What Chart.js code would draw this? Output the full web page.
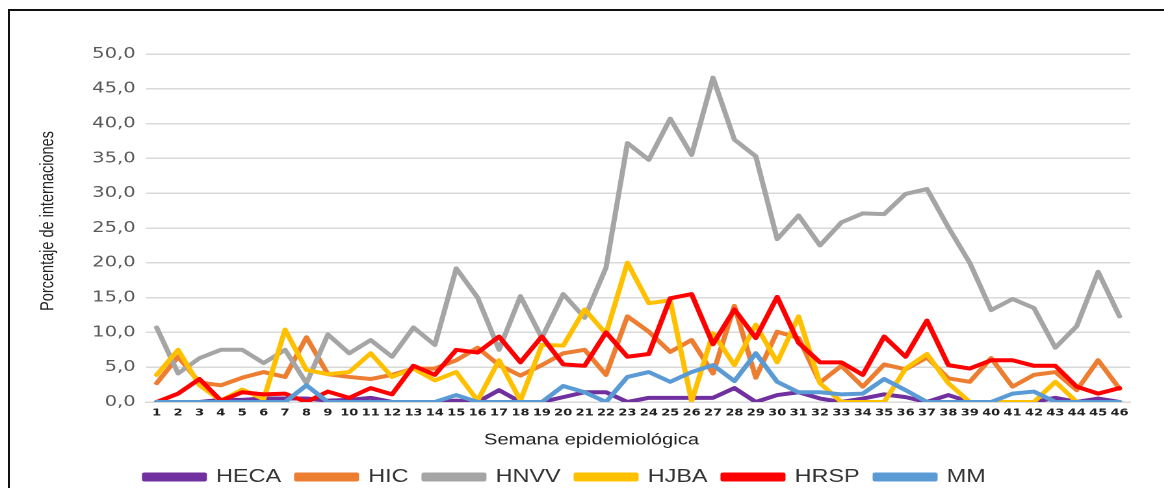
<!DOCTYPE html>
<html>
<head>
<meta charset="utf-8">
<script src="https://cdn.jsdelivr.net/npm/chart.js@4.4.1/dist/chart.umd.min.js"></script>
<style>
  html, body { margin: 0; padding: 0; background: #fff; overflow: hidden; }
  #frame { position: absolute; left: 8px; top: 9px; width: 1200px; height: 600px;
           border-left: 2px solid #111; border-top: 2px solid #111; }
  /* the chart is laid out narrow and widened horizontally */
  #wrap { position: absolute; left: 0; top: 0; width: 895.4px; height: 488px;
          transform: scaleX(1.3); transform-origin: 0 0; }
</style>
</head>
<body>
<div id="frame"></div>
<div id="wrap"><canvas id="c"></canvas></div>
<script>
const semanas = ['1','2','3','4','5','6','7','8','9','10','11','12','13','14','15','16','17','18','19','20','21','22','23',
                 '24','25','26','27','28','29','30','31','32','33','34','35','36','37','38','39','40','41','42','43','44','45','46'];

const heca = [0,0,0,0.3,0.3,0.5,0.5,0.5,0.2,0.3,0.6,0,0,0,0.2,0,1.7,0,0,0.7,1.4,1.4,0,0.6,0.6,0.6,0.6,2.0,0,1.0,
              1.4,0.5,0,0.5,1.1,0.7,0,1.0,0,0,0,0,0.6,0,0.5,0];
const hic  = [2.7,6.5,2.8,2.4,3.5,4.3,3.6,9.3,4.0,3.6,3.3,3.9,4.8,4.8,6.0,7.8,5.3,3.8,5.3,7.0,7.5,3.9,12.3,10.1,7.2,8.9,
              4.1,13.8,3.5,10.1,9.2,2.8,5.2,2.2,5.4,4.7,6.4,3.4,2.9,6.3,2.2,3.9,4.3,1.7,6.0,1.9];
const hnvv = [10.7,4.1,6.3,7.5,7.5,5.6,7.5,2.7,9.7,7.0,8.9,6.5,10.7,8.2,19.2,15.0,7.5,15.2,9.2,15.5,12.1,19.3,37.2,34.8,
              40.7,35.5,46.6,37.7,35.3,23.4,26.8,22.5,25.8,27.1,27.0,29.9,30.6,25.1,20.0,13.2,14.8,13.5,7.8,10.9,18.7,12.3];
const hjba = [3.9,7.5,2.4,0.2,1.8,0.4,10.4,4.6,4.0,4.3,7.0,3.6,4.8,3.1,4.3,0.2,6.0,0.2,8.2,8.1,13.3,9.8,20.0,14.2,14.6,0.1,
              9.9,5.3,11.1,5.7,12.3,2.7,0,0,0,4.8,6.9,2.7,0,0,0,0,2.9,0,0,0];
const hrsp = [0,1.2,3.3,0.2,1.4,1.1,1.2,0,1.5,0.6,2.0,1.1,5.2,3.9,7.5,7.1,9.4,5.7,9.4,5.4,5.2,10.0,6.5,6.9,14.9,15.5,8.3,
              13.3,9.2,15.1,8.5,5.7,5.7,3.9,9.4,6.5,11.7,5.3,4.8,6.0,6.0,5.2,5.2,2.2,1.2,2.0];
const mm   = [0,0,0,0,0,0,0,2.4,0,0,0,0,0,0,1.0,0,0,0,0,2.3,1.4,0,3.6,4.3,2.9,4.3,5.3,3.0,7.0,2.9,1.4,1.4,1.1,1.2,3.3,
              1.7,0,0,0,0,1.2,1.5,0,0,0,0];

const yTicks = [0,5,10,15,20,25,30,35,40,45,50];

const series = [
  { label: 'HECA', data: heca, color: '#7030A0' },
  { label: 'HIC',  data: hic,  color: '#ED7D31' },
  { label: 'HNVV', data: hnvv, color: '#A5A5A5' },
  { label: 'HJBA', data: hjba, color: '#FFC000' },
  { label: 'HRSP', data: hrsp, color: '#FF0000' },
  { label: 'MM',   data: mm,   color: '#5B9BD5' }
];

const sans = "'Liberation Sans', Arial, sans-serif";

// axis titles drawn at fixed spots beside the plot
const axisTitles = {
  id: 'axisTitles',
  afterDraw(chart) {
    const ctx = chart.ctx;
    ctx.save();
    ctx.fillStyle = '#222';
    ctx.textAlign = 'center';
    ctx.textBaseline = 'middle';
    ctx.font = '15.5px ' + sans;
    ctx.fillText('Semana epidemiológica', 455, 440);
    ctx.font = '14.5px ' + sans;
    ctx.translate(37, 221);
    ctx.rotate(-Math.PI / 2);
    ctx.fillText('Porcentaje de internaciones', 0, 0);
    ctx.restore();
  }
};

new Chart(document.getElementById('c'), {
  type: 'line',
  data: {
    labels: semanas,
    datasets: series.map((s, i) => ({
      label: s.label,
      data: s.data,
      borderColor: s.color,
      backgroundColor: s.color,
      borderWidth: 4,
      pointRadius: 0,
      tension: 0,
      borderJoinStyle: 'round',
      borderCapStyle: 'round',
      order: series.length - i
    }))
  },
  options: {
    responsive: true,
    maintainAspectRatio: false,
    devicePixelRatio: 2,
    animation: false,
    layout: { padding: { top: 54, right: 26, left: 0, bottom: -8 } },
    plugins: {
      tooltip: { enabled: false },
      legend: {
        position: 'bottom',
        labels: {
          boxWidth: 46,
          boxHeight: 5,
          padding: 12,
          color: '#333',
          font: { family: sans, size: 18 },
          sort: (a, b) => a.datasetIndex - b.datasetIndex
        }
      }
    },
    scales: {
      x: {
        offset: true,
        grid: { display: false, drawTicks: false },
        border: { display: true, color: '#D9D9D9', width: 1.5 },
        ticks: {
          autoSkip: false, maxRotation: 0, padding: 5,
          color: '#222',
          font: { family: 'DejaVu Sans', size: 10, weight: 'bold' }
        },
        afterFit(scale) { scale.height = 54; }
      },
      y: {
        min: 0, max: 50,
        afterBuildTicks(scale) { scale.ticks = yTicks.map(v => ({ value: v })); },
        grid: { color: '#D9D9D9', lineWidth: 1.5, drawTicks: false },
        border: { display: false },
        ticks: {
          padding: 8,
          color: '#595959',
          font: { family: 'DejaVu Sans', size: 15 },
          callback: v => v.toFixed(1).replace('.', ',')
        },
        afterFit(scale) { scale.width = 112.3; }
      }
    }
  },
  plugins: [axisTitles]
});
</script>
</body>
</html>
